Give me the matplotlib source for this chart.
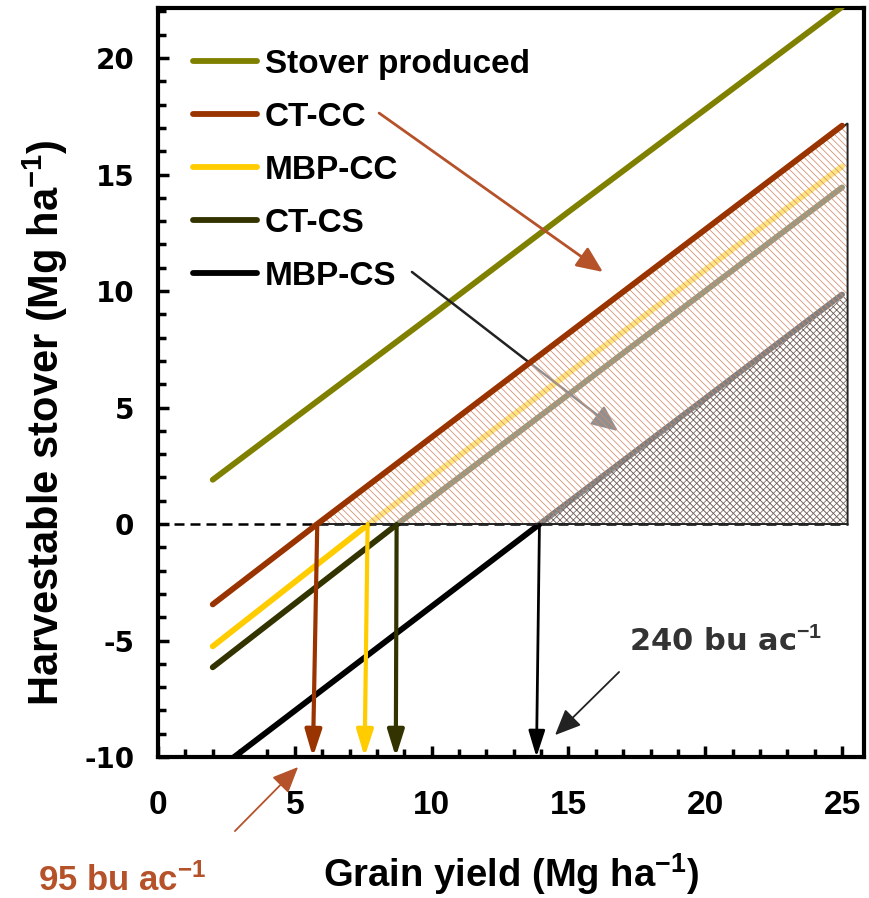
import matplotlib
matplotlib.use("Agg")
import matplotlib.pyplot as plt
from matplotlib.patches import Polygon
from matplotlib.lines import Line2D
import numpy as np

plt.rcParams['mathtext.fontset'] = 'custom'
plt.rcParams['mathtext.rm'] = 'Liberation Sans:bold'
plt.rcParams['mathtext.default'] = 'rm'
plt.rcParams['hatch.linewidth'] = 0.55
plt.rcParams['axes.unicode_minus'] = False

# ---- data ----
stover_x = [2, 5, 10, 15, 20, 25]
stover_y = [1.9, 4.55, 8.95, 13.4, 17.8, 22.2]

ctcc_x = [2, 5.82, 25]
ctcc_y = [-3.45, 0, 17.1]

mbpcc_x = [2, 7.7, 25]
mbpcc_y = [-5.25, 0, 15.35]

ctcs_x = [2, 8.75, 25]
ctcs_y = [-6.15, 0, 14.45]

mbpcs_x = [2, 13.95, 25]
mbpcs_y = [-10.7, 0, 9.85]

labels = ["Stover produced", "CT-CC", "MBP-CC", "CT-CS", "MBP-CS"]
colors = ["#808000", "#993300", "#FFCC00", "#333300", "#000000"]

# break-even yields (zero crossing) and where the arrows land on the axis
breakeven_top = [5.82, 7.66, 8.72, 13.94]
breakeven_bot = [5.66, 7.55, 8.69, 13.83]
arrow_colors = ["#993300", "#FFCC00", "#333300", "#000000"]
arrow_lw = [3.0, 3.0, 3.0, 2.0]

x_edge = 25.2
SANS = 'Liberation Sans'

fig = plt.figure(figsize=(8.69, 8.98), dpi=100)
ax = fig.add_axes([158/869, 1-757/898, (864-158)/869, (757-8)/898])
ax.set_xlim(0, 25.8)
ax.set_ylim(-10, 22.15)

series = [(stover_x, stover_y), (ctcc_x, ctcc_y), (mbpcc_x, mbpcc_y),
          (ctcs_x, ctcs_y), (mbpcs_x, mbpcs_y)]
zs = [3, 6, 3, 3, 3]
for (xs, ys), c, lab, z in zip(series, colors, labels, zs):
    ax.plot(xs, ys, color=c, lw=4.2, solid_capstyle='round', label=lab, zorder=z)

# dashed zero line
ax.plot([0, x_edge], [0, 0], color='black', lw=1.8, ls=(0, (4, 2.4)), zorder=5)

# hatched regions
ctcc_top = np.interp(x_edge, ctcc_x, ctcc_y)
poly1 = [(ctcc_x[1], 0), (x_edge, ctcc_top + 0.1), (x_edge, 0)]
ax.add_patch(Polygon(poly1, closed=True, facecolor=(1, 1, 1, 0.5),
                     edgecolor='#D48A6C', hatch='\\' * 5, lw=0, zorder=4))
ax.add_patch(Polygon(poly1, closed=True, fill=False, edgecolor='#222222',
                     lw=1.4, zorder=5))
mbpcs_top = np.interp(x_edge, mbpcs_x, mbpcs_y)
poly2 = [(mbpcs_x[1], 0), (x_edge, mbpcs_top), (x_edge, 0)]
ax.add_patch(Polygon(poly2, closed=True, facecolor=(1, 1, 1, 0.15),
                     edgecolor='#6E6460', hatch='x' * 5, lw=0, zorder=4.5))

# vertical arrows down to x axis
for xt, xb, c, lw in zip(breakeven_top, breakeven_bot, arrow_colors, arrow_lw):
    ax.annotate('', xy=(xb, -10), xytext=(xt, 0),
                arrowprops=dict(arrowstyle='-|>,head_length=0.8,head_width=0.25',
                                color=c, lw=lw, shrinkA=0, shrinkB=0,
                                mutation_scale=20),
                zorder=7, annotation_clip=False)

# pointer arrows from legend
ax.annotate('', xy=(16.26, 10.82), xytext=(8.08, 17.64),
            arrowprops=dict(arrowstyle='-|>,head_length=0.8,head_width=0.35',
                            color='#B5522A', lw=2.0, shrinkA=0, shrinkB=0,
                            mutation_scale=20), zorder=6)
ax.annotate('', xy=(16.81, 3.99), xytext=(9.28, 10.82),
            arrowprops=dict(arrowstyle='-|>,head_length=0.8,head_width=0.35',
                            color='#222222', lw=1.8, shrinkA=0, shrinkB=0,
                            mutation_scale=20), zorder=3.5)

# 240 bu annotation
ax.text(20.76, -5.02, "240 bu ac$^{-1}$", fontsize=22, fontweight='bold',
        family='DejaVu Sans', color='#333333', ha='center', va='center')
ax.annotate('', xy=(14.51, -9.06), xytext=(16.85, -6.35),
            arrowprops=dict(arrowstyle='-|>,head_length=0.8,head_width=0.35',
                            color='#222222', lw=1.3, shrinkA=0, shrinkB=0,
                            mutation_scale=20), zorder=6)

# 95 bu annotation
ax.annotate('', xy=(5.12, -10.43), xytext=(2.81, -13.18),
            arrowprops=dict(arrowstyle='-|>,head_length=0.8,head_width=0.35',
                            color='#B5522A', lw=1.3, shrinkA=0, shrinkB=0,
                            mutation_scale=20), annotation_clip=False)
ax.text(-1.32, -15.3, "95 bu ac$^{-1}$", fontsize=25, fontweight='bold',
        family=SANS, color='#B5522A', ha='center',
        va='center', clip_on=False)

# axes styling
for s in ax.spines.values():
    s.set_linewidth(3)
ax.set_xticks([0, 5, 10, 15, 20, 25])
ax.set_yticks([-10, -5, 0, 5, 10, 15, 20])
ax.set_xticks(np.arange(1, 26, 1), minor=True)
ax.set_yticks(np.arange(-9, 23, 1), minor=True)
ax.tick_params(axis='both', which='both', direction='in', width=2.5,
               top=False, right=False)
ax.tick_params(axis='both', which='major', length=8)
ax.tick_params(axis='both', which='minor', length=6)
ax.tick_params(axis='x', which='major', pad=24)
ax.tick_params(axis='y', which='major', pad=17)
for t in ax.get_xticklabels():
    t.set_fontfamily(SANS)
    t.set_fontweight('bold')
    t.set_fontsize(24)
for t in ax.get_yticklabels():
    t.set_fontfamily('DejaVu Sans')
    t.set_fontweight('bold')
    t.set_fontsize(20)

ax.set_xlabel("Grain yield (Mg ha$^{-1}$)", fontsize=27.5, fontweight='bold',
              family=SANS)
ax.xaxis.set_label_coords(0.5, -0.157)
ax.xaxis.label.set_va('center')
ax.set_ylabel("Harvestable stover (Mg ha$^{-1}$)", fontsize=30,
              fontweight='bold', family=SANS)
ax.yaxis.set_label_coords(-0.16, 0.446)
ax.yaxis.label.set_va('center')

handles = [Line2D([], [], color=c, lw=4.2, solid_capstyle='round') for c in colors]
leg = ax.legend(handles, labels, loc='upper left', bbox_to_anchor=(0.031, 0.963),
                frameon=False, prop=dict(family=SANS, weight='bold', size=24),
                handlelength=1.9, handletextpad=0.25, labelspacing=0.66,
                borderaxespad=0)
leg.set_zorder(10)

fig.savefig("out.png", dpi=100)
